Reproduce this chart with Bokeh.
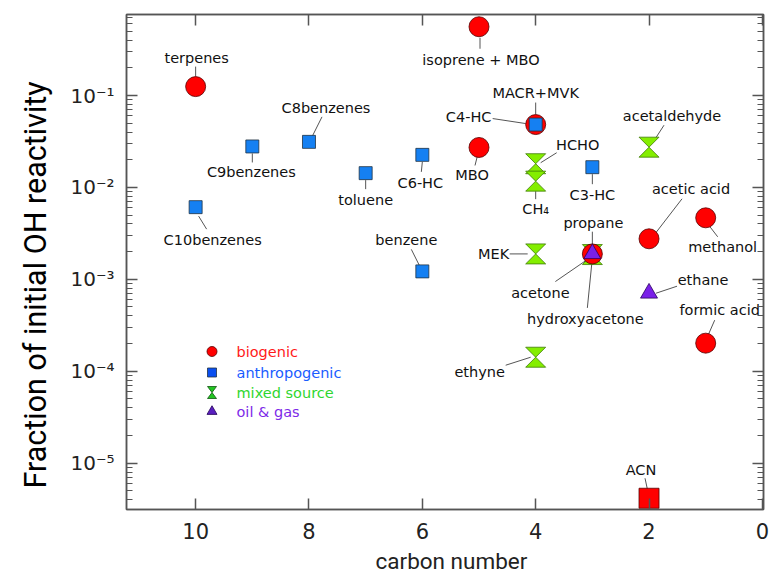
import numpy as np
from bokeh.plotting import figure
from bokeh.models import (Range1d, LinearAxis, LogAxis, FixedTicker, Title,
                          CustomJSTickFormatter, CustomLabelingPolicy)
from bokeh.core.properties import value
from bokeh.embed import file_html
from bokeh.resources import INLINE

# ---------------- data ----------------
bio_names = ["terpenes", "isoprene + MBO", "MBO", "MACR+MVK", "acetic acid",
             "methanol", "formic acid", "hydroxyacetone"]
bio_carbon = [10, 5, 5, 4, 2, 1, 1, 3]
bio_frac = [0.125, 0.56, 0.0272, 0.0483, 0.00276, 0.00467, 0.000202, 0.00189]

anthro_names = ["C10benzenes", "C9benzenes", "C8benzenes", "toluene", "C6-HC",
                "benzene", "C4-HC", "C3-HC"]
anthro_carbon = [10, 9, 8, 7, 6, 6, 4, 3]
anthro_frac = [0.0061, 0.0279, 0.0313, 0.0143, 0.0226, 0.00122, 0.0483, 0.0166]

mixed_names = ["HCHO", "CH\u2084", "acetaldehyde", "MEK", "acetone", "ethyne"]
mixed_carbon = [4, 4, 2, 4, 3, 4]
mixed_frac = [0.0181, 0.0117, 0.0274, 0.00189, 0.00186, 0.000142]

oil_names = ["propane", "ethane"]
oil_carbon = [3, 2]
oil_frac = [0.0019, 0.000706]

acn_names = ["ACN"]
acn_carbon = [2]
acn_frac = [4.15e-6]

legend_labels = ["biogenic", "anthropogenic", "mixed source", "oil & gas"]
x_ticks = [0, 2, 4, 6, 8, 10]
y_decades = [-5, -4, -3, -2, -1]
x_title = "carbon number"
y_title = "Fraction of initial OH reactivity"

# ---------------- layout / style ----------------
W, H = 774, 582
X_START, X_END = 11.22, -0.02
Y_START, Y_END = 3.13e-6, 0.761
FRAME_W, FRAME_H = 637, 495
FRAME_LEFT, FRAME_TOP = 126, 14     # canvas pixels
SX = FRAME_W / (X_START - X_END)
SY = FRAME_H / (np.log10(Y_END) - np.log10(Y_START))


def shift_x(x, px):
    return x - px / SX


def shift_y(y, py):
    return y * 10 ** (-py / SY)


def page_x(px):
    return X_START - (px - FRAME_LEFT) / SX


def page_y(py):
    return 10 ** (np.log10(Y_END) - (py - FRAME_TOP) / SY)


# label offsets: (label dx, label dy, leader start dx, dy, leader end dx, dy) in px
OFFS = {
    "terpenes": (1, -29, 0, -20, 0, -10),
    "isoprene + MBO": (2, 33, 1, 11, 1, 22),
    "MBO": (-7, 28, -1, 6, -4, 18),
    "MACR+MVK": (0, -32, 0, -22, 0, -10),
    "acetic acid": (42, -50, 33, -40, 6, -5),
    "methanol": (17, 29, 2, 6, 12, 19),
    "formic acid": (14, -33, 9, -23, 2, -7),
    "hydroxyacetone": (-7, 65, -5, 54, 0, 4),
    "C10benzenes": (17, 33, 3, 9, 11, 22),
    "C9benzenes": (-1, 26, 0, 7, 0, 16),
    "C8benzenes": (17, -34, 13, -25, 3, -5),
    "toluene": (0, 27, 0, 7, 0, 16),
    "C6-HC": (-2, 28, 0, 7, -1, 17),
    "benzene": (-16, -31, -11, -22, -3, -6),
    "C4-HC": (-67, -8, -43, -6, -10, -1),
    "C3-HC": (0, 28, 0, 7, 0, 17),
    "HCHO": (42, -19, 21, -11, 5, -1),
    "CH\u2084": (0, 28, 0, 10, 0, 18),
    "acetaldehyde": (23, -31, 15, -22, 4, -5),
    "MEK": (-42, 0, -26, 0, -8, 0),
    "acetone": (-52, 38, -37, 27, -5, 5),
    "ethyne": (-56, 15, -30, 8, -5, 0),
    "propane": (1, -31, 0, -22, 0, -8),
    "ethane": (54, -13, 28, -7, 7, 0),
    "ACN": (-8, -28, -4, -20, -1, -6),
}

AX_COLOR = "#555555"
LBL_FONT = "DejaVu Sans"

p = figure(x_range=Range1d(X_START, X_END), y_range=Range1d(Y_START, Y_END),
           y_axis_type="log", frame_width=FRAME_W, frame_height=FRAME_H,
           output_backend="svg", toolbar_location=None,
           min_border_left=FRAME_LEFT, min_border_top=FRAME_TOP,
           min_border_right=W - FRAME_LEFT - FRAME_W - 1,
           min_border_bottom=H - FRAME_TOP - FRAME_H,
           background_fill_color="white", border_fill_color="white")
p.xgrid.visible = False
p.ygrid.visible = False
p.outline_line_color = AX_COLOR
p.outline_line_width = 1.5

minor = [k * 10.0 ** n for n in range(-6, 0) for k in range(2, 10)]
yfmt = CustomJSTickFormatter(code="""
const sup = {"-":"\\u207b","0":"\\u2070","1":"\\u00b9","2":"\\u00b2","3":"\\u00b3",
             "4":"\\u2074","5":"\\u2075","6":"\\u2076","7":"\\u2077","8":"\\u2078","9":"\\u2079"};
const e = Math.round(Math.log10(tick));
return "10" + String(e).split("").map(c => sup[c]).join("");
""")


def style_axis(ax, major=11, minor_len=6):
    ax.axis_line_color = AX_COLOR
    ax.axis_line_width = 1.5
    ax.major_tick_line_color = AX_COLOR
    ax.major_tick_line_width = 1.5
    ax.minor_tick_line_color = AX_COLOR
    ax.minor_tick_line_width = 1.2
    ax.major_tick_in = major
    ax.major_tick_out = 0
    ax.minor_tick_in = minor_len
    ax.minor_tick_out = 0


def hide_labels(ax):
    ax.formatter = CustomJSTickFormatter(code='return ""')
    ax.major_label_policy = CustomLabelingPolicy(code="return new Set()")
    ax.major_label_text_font_size = "1px"
    ax.major_label_standoff = 0


xa = p.xaxis[0]
xa.ticker = FixedTicker(ticks=x_ticks)
style_axis(xa)
xa.major_label_text_font = LBL_FONT
xa.major_label_text_font_size = "21px"
xa.major_label_text_color = "#222222"
xa.major_label_standoff = 13

ya = p.yaxis[0]
ya.ticker = FixedTicker(ticks=[10.0 ** d for d in y_decades], minor_ticks=minor)
ya.formatter = yfmt
style_axis(ya)
ya.major_label_text_font = LBL_FONT
ya.major_label_text_font_size = "20px"
ya.major_label_text_color = "#222222"
ya.major_label_standoff = 12

top = LinearAxis(ticker=FixedTicker(ticks=x_ticks))
style_axis(top)
hide_labels(top)
p.add_layout(top, "above")

right = LogAxis(ticker=FixedTicker(ticks=[10.0 ** d for d in y_decades], minor_ticks=minor))
style_axis(right)
hide_labels(right)
p.add_layout(right, "right")

# axis titles as side-panel titles, offset along the axis like the reference
ytitle = Title(text=y_title, align="left", offset=21, standoff=29,
               text_font="Roboto", text_font_size="30.5px",
               text_font_style="normal", text_color="#000000")
xtitle = Title(text=x_title, align="left", offset=249, standoff=9,
               text_font="Roboto", text_font_size="22.5px",
               text_font_style="normal", text_color="#222222")
p.add_layout(ytitle, "left")
p.add_layout(xtitle, "below")

# ---------------- leader lines and labels ----------------
all_names = bio_names + anthro_names + mixed_names + oil_names + acn_names
all_x = bio_carbon + anthro_carbon + mixed_carbon + oil_carbon + acn_carbon
all_y = bio_frac + anthro_frac + mixed_frac + oil_frac + acn_frac

lx, ly, xo, yo, x0, y0, x1, y1 = [], [], [], [], [], [], [], []
for n, x, y in zip(all_names, all_x, all_y):
    o = OFFS[n]
    lx.append(x); ly.append(y); xo.append(o[0]); yo.append(o[1])
    x0.append(shift_x(x, o[2])); y0.append(shift_y(y, o[3]))
    x1.append(shift_x(x, o[4])); y1.append(shift_y(y, o[5]))

p.segment(x0=x0, y0=y0, x1=x1, y1=y1, line_color="#555555", line_width=1)

# ---------------- markers ----------------
HW, HH = 10, 10   # hourglass half width / half height in px


def hourglass(xs_c, ys_c, hw, hh):
    xs, ys = [], []
    f = 10 ** (hh / SY)
    for x, y in zip(xs_c, ys_c):
        a, b = shift_x(x, -hw), shift_x(x, hw)
        xs.append([a, b, x, b, a, x])
        ys.append([y * f, y * f, y, y / f, y / f, y])
    return xs, ys


mxs, mys = hourglass(mixed_carbon, mixed_frac, HW, HH)
p.patches(mxs, mys, fill_color="#84ee00", line_color="#3f7a08", line_width=0.8)

p.scatter(bio_carbon, bio_frac, marker="circle", size=20,
          fill_color="#ff0000", line_color="#550000", line_width=0.8)
p.scatter(anthro_carbon, anthro_frac, marker="square", size=13,
          fill_color="#1580f2", line_color="#223344", line_width=0.8)
p.scatter(acn_carbon, acn_frac, marker="square", size=20,
          fill_color="#ff0000", line_color="#550000", line_width=0.8)
p.scatter(oil_carbon, oil_frac, marker="triangle", size=17,
          fill_color="#7a20e8", line_color="#2a0060", line_width=0.8)

p.text(x=lx, y=ly, text=all_names, x_offset=xo, y_offset=yo,
       text_align="center", text_baseline="middle",
       text_font=value(LBL_FONT), text_font_size=value("14.5px"),
       text_color="#111111")

# ---------------- legend (manual, coloured labels) ----------------
LEG_KEY_PX, LEG_TEXT_PX = 211.5, 236
LEG_ROWS_PY = [351, 372, 392, 411]
leg_colors = ["#ff1a1a", "#1a5cff", "#2fd62f", "#7d2ae8"]
kx = page_x(LEG_KEY_PX)
ky = [page_y(v) for v in LEG_ROWS_PY]
p.scatter([kx], [ky[0]], marker="circle", size=10, fill_color="#ff0000",
          line_color="#550000", line_width=0.8)
p.scatter([kx], [ky[1]], marker="square", size=9, fill_color="#0a4ff0",
          line_color="#223344", line_width=0.8)
lxs, lys = hourglass([kx], [ky[2]], 4.5, 6)
p.patches(lxs, lys, fill_color="#22c522", line_color="#115511", line_width=0.8)
p.scatter([kx], [ky[3]], marker="triangle", size=10, fill_color="#5a1fc0",
          line_color="#220055", line_width=0.8)
p.text(x=[page_x(LEG_TEXT_PX)] * 4, y=ky, text=legend_labels,
       text_color=leg_colors, text_align="left", text_baseline="middle",
       text_font=value(LBL_FONT), text_font_size=value("14.5px"))

with open("out.html", "w", encoding="utf-8") as fh:
    fh.write(file_html(p, INLINE))
